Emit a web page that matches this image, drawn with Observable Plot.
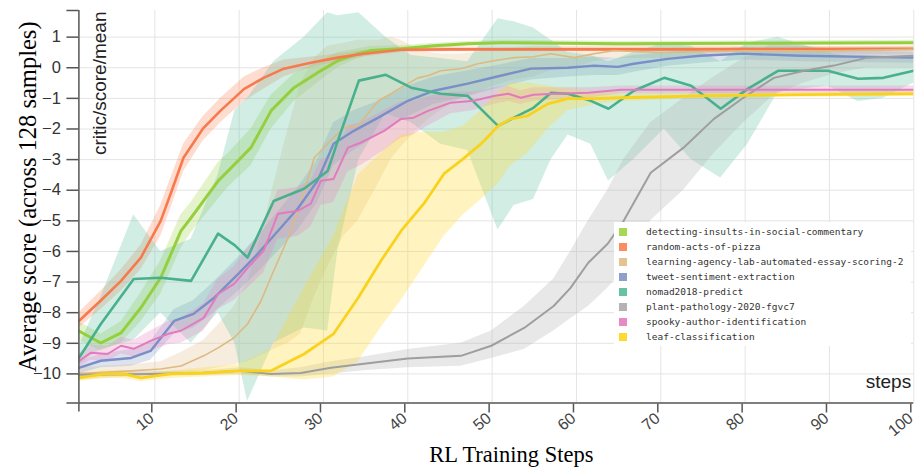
<!DOCTYPE html>
<html><head><meta charset="utf-8">
<script src="https://cdn.jsdelivr.net/npm/d3@7"></script>
<script src="https://cdn.jsdelivr.net/npm/@observablehq/plot@0.6"></script>
<style>
body{margin:0;background:#fff;}
#wrap{position:relative;width:917px;height:467px;}
#legend{position:absolute;left:614px;top:222px;width:297px;height:124px;background:#fff;font-family:"DejaVu Sans Mono",monospace;font-size:9.5px;color:#333;}
.sw{position:absolute;left:5px;width:8px;height:8px;}
.lt{position:absolute;left:32px;line-height:15px;white-space:nowrap;}
</style></head><body><div id="wrap"></div>
<script>
const seriesNames = ["detecting-insults-in-social-commentary","random-acts-of-pizza","learning-agency-lab-automated-essay-scoring-2","tweet-sentiment-extraction","nomad2018-predict","plant-pathology-2020-fgvc7","spooky-author-identification","leaf-classification"];
const seriesColors = ["#a6d854","#fc8d62","#e5c494","#8da0cb","#66c2a5","#b3b3b3","#e78ac3","#ffd92f"];
const lineColors = ["#95cf3f","#f67a4e","#ddb983","#7a8fc6","#48b08c","#9e9e9e","#e27bbd","#f9d21e"];
const lineWidths = [3, 2.6, 1.6, 2.4, 2.6, 2, 2, 2.8];
const xTicks = [10,20,30,40,50,60,70,80,90,100];
const yTicks = [-10,-9,-8,-7,-6,-5,-4,-3,-2,-1,0,1];
const xDomain = [1, 100];
const yDomain = [-10.95, 1.87];

// each row: [step, mean, lower, upper]
const insults = [[1,-8.6,-8.9,-8.3],[3.6,-8.99,-9.25,-8.7],[6,-8.66,-9.0,-8.3],[8.35,-7.84,-8.3,-7.35],[10.7,-6.86,-7.4,-6.3],[13.1,-5.33,-5.9,-4.8],[14.3,-4.9,-5.4,-4.4],[17.5,-3.7,-4.3,-3.1],[18.7,-3.37,-3.9,-2.8],[21.4,-2.61,-3.2,-2.0],[23.8,-1.4,-2.0,-0.9],[26.5,-0.65,-1.1,-0.2],[29.3,-0.16,-0.5,0.2],[31.7,0.23,0.0,0.5],[34.1,0.46,0.3,0.62],[35.6,0.56,0.42,0.7],[39.2,0.62,0.52,0.72],[43.1,0.72,0.63,0.8],[47.1,0.78,0.7,0.86],[51,0.82,0.75,0.9],[65.3,0.78,0.71,0.86],[80,0.8,0.73,0.87],[100,0.82,0.75,0.9]];
const pizza = [[1,-8.27,-8.5,-8.0],[3.6,-7.6,-7.9,-7.3],[6,-6.96,-7.3,-6.6],[8.35,-6.2,-6.6,-5.8],[10.7,-5.0,-5.5,-4.5],[11.9,-4.1,-4.6,-3.6],[13.4,-2.94,-3.4,-2.5],[15.7,-1.99,-2.4,-1.6],[17.8,-1.4,-1.8,-1.0],[20.6,-0.69,-1.1,-0.3],[22.9,-0.33,-0.7,0.0],[25.3,-0.03,-0.3,0.25],[28.5,0.16,0.0,0.35],[31.7,0.33,0.2,0.45],[34.8,0.46,0.35,0.56],[39.2,0.59,0.5,0.67],[45,0.6,0.52,0.68],[55,0.6,0.53,0.67],[70,0.6,0.53,0.67],[85,0.61,0.54,0.68],[100,0.62,0.55,0.69]];
const essay = [[1,-10,-10.2,-9.8],[4,-9.95,-10.15,-9.75],[7.2,-9.9,-10.1,-9.7],[10.7,-9.84,-10.1,-9.6],[13.1,-9.74,-10.0,-9.3],[15.8,-9.41,-9.9,-8.9],[17.5,-9.15,-9.8,-8.4],[19.4,-8.82,-9.7,-7.8],[21,-8.37,-9.6,-7.0],[22.6,-7.61,-9.4,-5.5],[24.1,-6.63,-9.2,-3.8],[25.8,-5.56,-9.0,-2.0],[27.3,-4.44,-8.7,-0.5],[28.9,-2.94,-7.5,0.3],[30.5,-2.48,-6.5,0.7],[32.4,-1.96,-5.5,0.8],[34.1,-1.9,-5.0,0.9],[36.5,-1.08,-3.8,0.9],[38,-0.85,-3.0,1.0],[39.2,-0.65,-2.6,0.9],[41.2,-0.33,-2.0,0.6],[42.4,-0.26,-1.7,0.5],[43.9,-0.1,-1.4,0.45],[46.3,-0.03,-1.0,0.45],[48.3,0.13,-0.8,0.5],[50.2,0.23,-0.6,0.6],[52.6,0.33,-0.4,0.65],[54.9,0.36,-0.3,0.7],[57,0.46,-0.1,0.7],[59.7,0.33,0.0,0.7],[62.1,0.46,0.2,0.72],[64.4,0.56,0.3,0.75],[70,0.5,0.3,0.72],[80,0.55,0.4,0.72],[90,0.55,0.42,0.7],[100,0.6,0.45,0.72]];
const tweet = [[1,-9.8,-10.0,-9.6],[3.6,-9.57,-9.8,-9.35],[7.2,-9.48,-9.75,-9.2],[9.5,-9.25,-9.55,-8.95],[12.3,-8.27,-8.7,-7.9],[14.6,-8.04,-8.5,-7.6],[17,-7.52,-8.0,-7.0],[19.9,-6.73,-7.3,-6.2],[22.2,-6.08,-6.7,-5.5],[24.6,-5.33,-6.0,-4.7],[27,-4.58,-5.3,-3.9],[29.3,-3.69,-4.4,-3.0],[31.2,-2.48,-3.2,-1.8],[33.6,-2.06,-2.7,-1.4],[36.5,-1.63,-2.2,-1.1],[40,-1.08,-1.6,-0.6],[43.1,-0.75,-1.2,-0.3],[47.1,-0.52,-0.95,-0.1],[51,-0.26,-0.65,0.1],[54.6,-0.03,-0.4,0.3],[59,0,-0.3,0.3],[62.1,0.07,-0.25,0.35],[64.9,0.03,-0.25,0.3],[66.8,0.13,-0.15,0.4],[70.8,0.29,0.05,0.5],[74.7,0.39,0.15,0.6],[79.8,0.46,0.25,0.65],[86.6,0.39,0.2,0.6],[100,0.33,0.15,0.5]];
const nomad = [[1,-9.48,-9.7,-9.1],[3.6,-8.37,-9.2,-7.5],[7.5,-6.9,-8.9,-4.8],[10.7,-6.86,-8.0,-6.0],[14.3,-6.96,-9.0,-5.6],[17.5,-5.42,-8.0,-3.5],[19.5,-5.8,-9.0,-1.4],[21,-6.2,-10.9,-1.0],[24.1,-4.35,-9.0,0.2],[27.7,-3.95,-8.5,1.0],[30.5,-3.37,-8.6,1.8],[31.7,-2.39,-6.0,1.7],[34.2,-0.42,-3.0,1.8],[37.4,-0.23,-1.5,1.0],[40.4,-0.65,-1.8,0.4],[43.9,-0.85,-2.5,0.3],[47.1,-0.92,-2.7,0.2],[50.7,-1.9,-5.3,1.6],[52.6,-1.63,-4.5,1.5],[54.9,-1.31,-4.3,1.3],[57,-0.82,-3.0,0.9],[59,-0.85,-2.2,0.5],[61.7,-1.08,-2.5,0.4],[63.8,-1.34,-3.7,0.2],[66.8,-0.75,-3.0,0.5],[70.4,-0.33,-2.0,0.8],[73.6,-0.59,-3.0,0.7],[77.1,-1.34,-3.6,0.2],[80.3,-0.69,-2.5,0.8],[83.9,-0.1,-0.8,1.0],[89.8,-0.1,-0.6,0.5],[93.4,-0.36,-1.1,0.3],[96.4,-0.33,-1.0,0.3],[100,-0.1,-0.5,0.3]];
const plant = [[1,-10.03,-10.1,-9.95],[9.5,-10,-10.07,-9.93],[15.5,-9.97,-10.05,-9.9],[20.2,-9.9,-10.0,-9.8],[23.8,-10,-10.1,-9.9],[27.3,-9.97,-10.1,-9.8],[30.9,-9.8,-10.0,-9.6],[34.8,-9.67,-9.9,-9.45],[40,-9.5,-9.8,-9.2],[46.3,-9.41,-9.75,-9.0],[49.9,-9.08,-9.5,-8.6],[53.8,-8.5,-9.2,-7.8],[57.3,-7.78,-8.6,-6.9],[59.3,-7.19,-8.2,-6.0],[61.4,-6.37,-7.8,-5.0],[63.7,-5.75,-7.2,-4.0],[65.6,-5.0,-6.6,-3.0],[68.8,-3.43,-5.0,-1.8],[72.7,-2.61,-4.0,-1.0],[76.3,-1.67,-2.8,-0.3],[79.8,-0.98,-1.8,0.3],[83.4,-0.33,-0.9,0.8],[87,-0.1,-0.5,0.7],[90.5,0.07,-0.2,0.6],[94.5,0.33,0.0,0.6],[100,0.39,0.0,0.6]];
const spooky = [[1,-9.58,-9.8,-9.35],[2.4,-9.31,-9.55,-9.05],[4.4,-9.35,-9.6,-9.1],[6,-9.08,-9.35,-8.8],[7.5,-9.18,-9.45,-8.9],[9.5,-8.92,-9.25,-8.6],[11.6,-8.69,-9.05,-8.3],[13.1,-8.59,-9.0,-8.2],[15.8,-8.17,-8.6,-7.7],[17.5,-7.39,-7.9,-6.9],[19.4,-7.06,-7.6,-6.5],[21,-6.54,-7.2,-5.9],[22.9,-5.98,-6.7,-5.3],[24.6,-4.77,-5.6,-4.0],[27,-4.67,-5.5,-3.9],[28.5,-4.44,-5.2,-3.7],[29.7,-3.69,-4.5,-3.0],[31.2,-3.63,-4.4,-2.9],[32.9,-2.61,-3.4,-1.9],[34.4,-2.45,-3.2,-1.8],[37.2,-2.06,-2.7,-1.4],[39.2,-1.67,-2.3,-1.1],[40.7,-1.63,-2.2,-1.1],[42.4,-1.41,-1.9,-0.95],[45.1,-1.14,-1.5,-0.8],[47.8,-1.08,-1.4,-0.8],[50.2,-0.92,-1.2,-0.65],[51.9,-0.85,-1.1,-0.6],[53.4,-0.98,-1.2,-0.75],[54.9,-0.88,-1.1,-0.65],[57.3,-0.85,-1.05,-0.65],[61.4,-0.82,-1.0,-0.65],[65.3,-0.72,-0.85,-0.6],[80,-0.72,-0.85,-0.6],[100,-0.72,-0.84,-0.6]];
const leaf = [[1,-10.13,-10.25,-10.0],[4,-10,-10.15,-9.9],[6.3,-10.0,-10.15,-9.9],[8.35,-10.13,-10.25,-10.0],[11.9,-10,-10.15,-9.9],[15.8,-9.97,-10.1,-9.8],[19.9,-9.9,-10.05,-9.7],[23.8,-9.9,-10.1,-9.2],[27.7,-9.35,-10.2,-7.2],[31.2,-8.69,-10.1,-5.5],[34.1,-7.52,-9.6,-3.5],[36.8,-6.31,-8.5,-2.8],[39.2,-5.33,-7.6,-2.2],[41.9,-4.44,-6.5,-2.1],[44.3,-3.46,-5.5,-2.1],[46.6,-2.97,-4.8,-1.9],[48.7,-2.48,-4.3,-1.4],[50.7,-1.9,-3.8,-0.8],[52.2,-1.67,-3.2,-0.5],[54.2,-1.57,-2.8,-0.5],[56.6,-1.18,-2.0,-0.6],[59,-1.01,-1.4,-0.7],[62.1,-1.01,-1.2,-0.8],[65.3,-0.98,-1.1,-0.85],[74.7,-0.92,-1.0,-0.84],[86.6,-0.88,-0.96,-0.8],[100,-0.85,-0.93,-0.77]];

const seriesData = [insults, pizza, essay, tweet, nomad, plant, spooky, leaf];

const tables = seriesData.map((arr, i) => arr.map(([x, y, lo, hi]) => ({series: seriesNames[i], x, y, lo, hi})));

const marks = [
  Plot.gridX(xTicks, {stroke: "#e4e4e4", strokeOpacity: 1}),
  Plot.gridY(yTicks, {stroke: "#e4e4e4", strokeOpacity: 1}),
];
tables.forEach((t, i) => marks.push(Plot.areaY(t, {x: "x", y1: "lo", y2: "hi", fill: seriesColors[i], fillOpacity: 0.3, clip: true})));
tables.forEach((t, i) => marks.push(Plot.line(t, {x: "x", y: "y", stroke: lineColors[i], strokeWidth: lineWidths[i], strokeLinejoin: "round", clip: true})));

const axisStyle = {stroke: "#555", strokeWidth: 1.5};
marks.push(
  Plot.ruleX([xDomain[0]], axisStyle),
  Plot.ruleY([yDomain[0]], axisStyle),
  Plot.axisY(yTicks, {tickSize: 12, tickPadding: 6, fontSize: 16.5, tickFormat: d3.format("d"), stroke: "#555", strokeWidth: 1.5, fill: "#333", label: null}),
  Plot.axisY(yDomain, {tickSize: 12, tickFormat: () => "", stroke: "#555", strokeWidth: 1.5, label: null}),
  Plot.axisX(xTicks, {tickSize: 9, tickPadding: 3, tickRotate: -40, fontSize: 16, dx: -3, dy: 1, stroke: "#555", strokeWidth: 1.5, fill: "#444", label: null}),
  Plot.axisX([xDomain[0]], {tickSize: 9, tickFormat: () => "", stroke: "#555", strokeWidth: 1.5, label: null}),
  Plot.text(["critic/score/mean"], {frameAnchor: "top-left", rotate: -90, textAnchor: "end", lineAnchor: "bottom", dx: 26.6, dy: 1, fontSize: 19, fill: "#222"}),
  Plot.text(["steps"], {frameAnchor: "bottom-right", textAnchor: "end", lineAnchor: "bottom", dx: -2.6, dy: -15, fontSize: 19, fill: "#222"}),
  Plot.text(["Average score (across 128 samples)"], {frameAnchor: "left", rotate: -90, textAnchor: "middle", lineAnchor: "bottom", dx: -43.4, dy: -10, fontSize: 24.5, fontFamily: "Liberation Serif", fill: "#000"}),
  Plot.text(["RL Training Steps"], {frameAnchor: "bottom", textAnchor: "middle", lineAnchor: "bottom", dx: 15, dy: 59.2, fontSize: 22.5, fontFamily: "Liberation Serif", fill: "#000"})
);

const chart = Plot.plot({
  width: 917, height: 467,
  marginLeft: 78.4, marginRight: 3.7, marginTop: 10, marginBottom: 64.5,
  style: {fontFamily: "Liberation Sans", background: "#fff", overflow: "visible"},
  x: {domain: xDomain},
  y: {domain: yDomain},
  marks
});
const wrap = document.getElementById("wrap");
wrap.appendChild(chart);

const legend = document.createElement("div");
legend.id = "legend";
seriesNames.forEach((name, i) => {
  const sw = document.createElement("div");
  sw.className = "sw";
  sw.style.top = (5.7 + 15 * i) + "px";
  sw.style.background = seriesColors[i];
  legend.appendChild(sw);
  const lt = document.createElement("div");
  lt.className = "lt";
  lt.style.top = (2.2 + 15 * i) + "px";
  lt.textContent = name;
  legend.appendChild(lt);
});
wrap.appendChild(legend);
</script></body></html>
